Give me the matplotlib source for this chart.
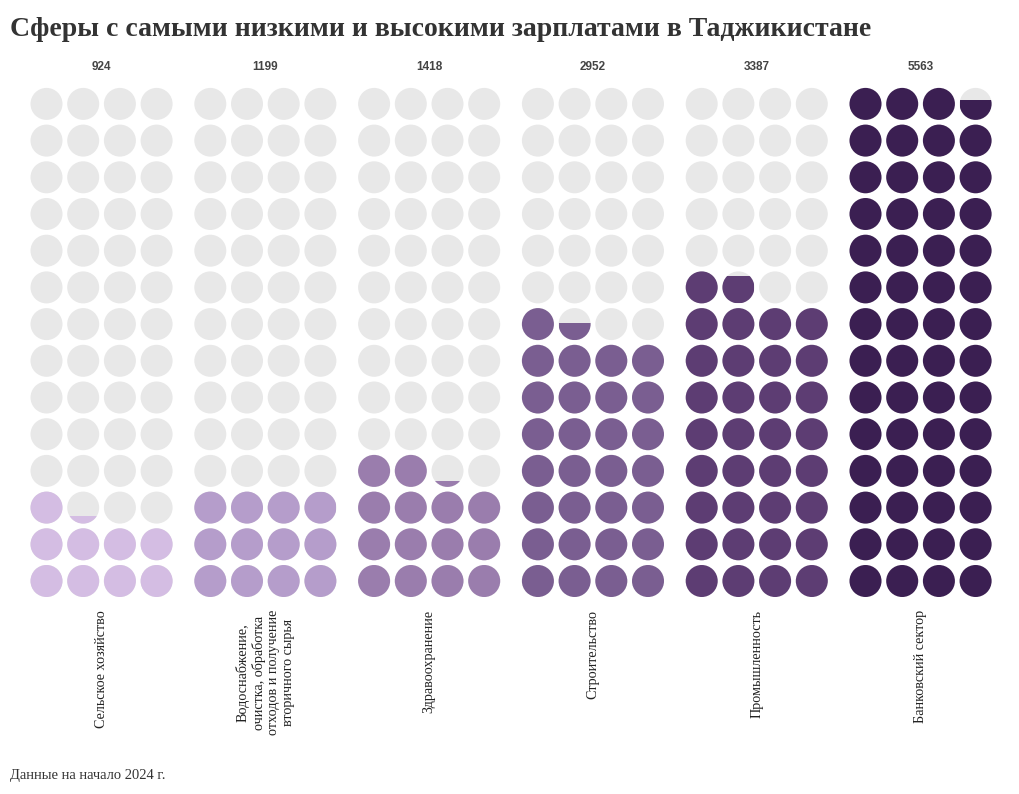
"""
Вафельная диаграмма: зарплаты по сферам в Таджикистане
"""

import matplotlib
matplotlib.use("Agg")
import matplotlib.pyplot as plt
from matplotlib.patches import Circle, Rectangle

# данные
categories = [
    "Сельское хозяйство",
    "Водоснабжение,\nочистка, обработка\nотходов и получение\nвторичного сырья",
    "Здравоохранение",
    "Строительство",
    "Промышленность",
    "Банковский сектор",
]
values = [924, 1199, 1418, 2952, 3387, 5563]
colors = ["#d4bde3", "#b59dcb", "#9a7dad", "#7a5e91", "#5d3d73", "#3b1f52"]
unit = 100  # один кружок = 100

n_cols = 4
n_rows = 14
empty_color = "#e8e8e8"

fig = plt.figure(figsize=(10.2, 7.94), dpi=100)
ax = fig.add_axes([0, 0, 1, 1])
ax.set_xlim(0, 1020)
ax.set_ylim(794, 0)
ax.set_aspect("equal")
ax.axis("off")

# сетка кружков (в пикселях)
x0 = 46.5
group_step = 163.8
dot_step = 36.7
y_bottom = 581
r = 16

for g, (cat, val, col) in enumerate(zip(categories, values, colors)):
    filled = val / unit
    gx = x0 + g * group_step
    for k in range(n_rows * n_cols):
        row = k // n_cols
        c = k % n_cols
        cx = gx + c * dot_step
        cy = y_bottom - row * dot_step
        ax.add_patch(Circle((cx, cy), r, facecolor=empty_color, edgecolor="none"))
        frac = min(max(filled - k, 0), 1)
        if frac <= 0:
            continue
        dot = Circle((cx, cy), r, facecolor=col, edgecolor="none")
        ax.add_patch(dot)
        # неполный кружок: заливка снизу на долю высоты
        if frac < 1:
            h = 2 * r * frac
            clip = Rectangle((cx - r, cy + r - h), 2 * r, h, transform=ax.transData)
            dot.set_clip_path(clip)

    center = gx + 1.5 * dot_step
    ax.text(center, 67, f"{val}", ha="center", va="center", fontsize=8.5,
            fontweight="bold", color="#444444", family="Liberation Sans")
    ax.text(center, 610, cat, ha="center", va="top", rotation=90,
            fontsize=10.2, color="#222222", family="Liberation Serif",
            linespacing=1.15, multialignment="center")

# заголовок и подпись
ax.text(10, 29, "Сферы с самыми низкими и высокими зарплатами в Таджикистане",
        ha="left", va="center", fontsize=20, fontweight="bold",
        color="#333333", family="Liberation Serif")
ax.text(10, 775, "Данные на начало 2024 г.", ha="left", va="center",
        fontsize=10.5, color="#333333", family="Liberation Serif")

fig.savefig("out.png", dpi=100, facecolor="white")
